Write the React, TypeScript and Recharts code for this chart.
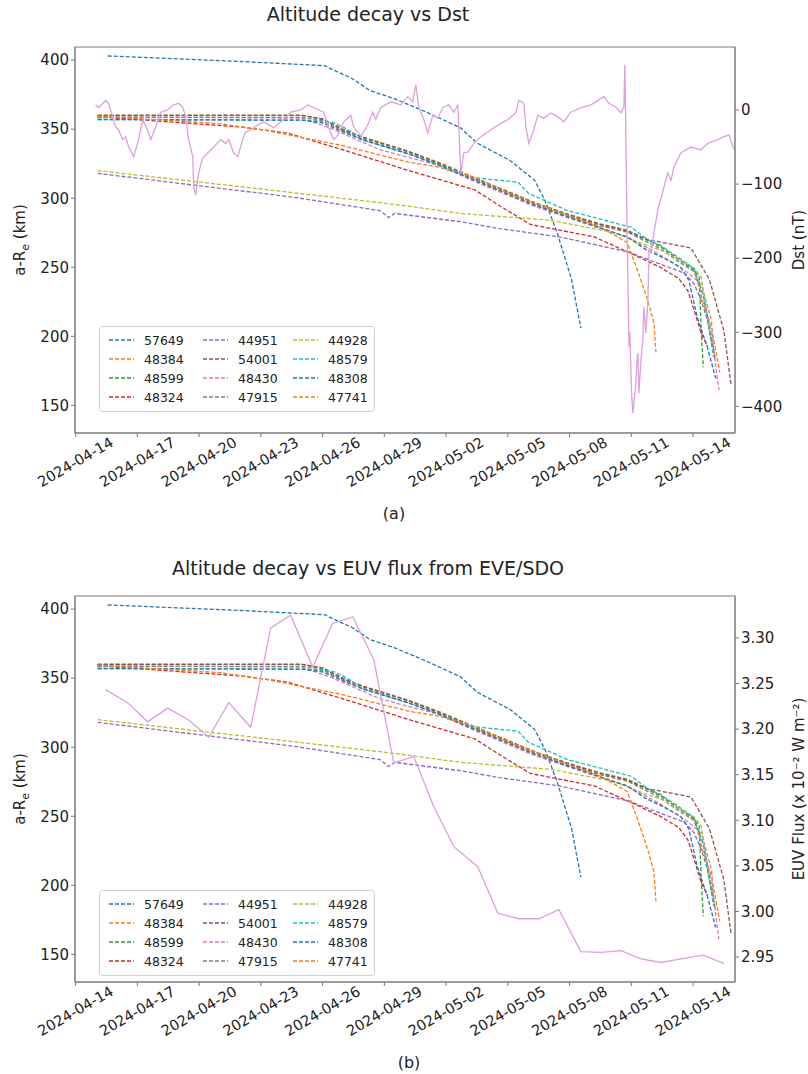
import React from 'react'
import {Line, LineChart, XAxis, YAxis} from 'recharts'

// x values are days since 2024-04-14 00:00
const DATE_TICKS = [0, 3, 6, 9, 12, 15, 18, 21, 24, 27, 30]
const DATE_LABELS = [
    '2024-04-14', '2024-04-17', '2024-04-20', '2024-04-23', '2024-04-26', '2024-04-29',
    '2024-05-02', '2024-05-05', '2024-05-08', '2024-05-11', '2024-05-14'
]
const ALT_TICKS = [150, 200, 250, 300, 350, 400]
const DST_TICKS = [-400, -300, -200, -100, 0]
const EUV_TICKS = [2.95, 3.0, 3.05, 3.1, 3.15, 3.2, 3.25, 3.3]

const SAT_IDS = ['57649', '48384', '48599', '48324', '44951', '54001', '48430', '47915', '44928', '48579', '48308', '47741']
const SAT_COLORS = ['#1f77b4', '#ff7f0e', '#2ca02c', '#d62728', '#9467bd', '#8c564b', '#e377c2', '#7f7f7f', '#bcbd22', '#17becf', '#1f77b4', '#ff7f0e']

// [day, a-Re (km)]
const alt57649 = [[1.56, 403], [4, 401.5], [8, 399], [12.1, 396], [12.5, 393], [13.4, 387], [14.3, 378], [15.5, 372], [17.1, 362], [18.7, 351], [19.5, 340], [20.0, 336], [21.1, 327.5], [22.3, 313], [22.8, 298.6], [23.4, 275], [24.1, 241], [24.55, 206]]
const alt48384 = [[1.07, 360], [11, 360], [12, 357.5], [13, 350], [14, 344], [16.2, 334], [17.8, 325], [19.3, 315.5], [22.3, 297], [24, 288], [25.5, 281.5], [26.8, 277], [28.4, 265.5], [29.3, 256], [30.05, 249], [30.5, 224], [30.9, 206.5], [31.3, 174]]
const alt48599 = [[1.07, 360], [11, 360], [12, 357], [13, 349.5], [14, 343.5], [16.2, 333.5], [17.8, 324.5], [19.3, 315], [22.3, 296.5], [24, 287.5], [25.5, 281], [26.8, 276.5], [28.4, 265], [29.3, 255.5], [30.05, 248], [30.3, 243], [30.4, 204], [30.5, 177.6]]
const alt48324 = [[1.07, 359], [8.1, 351.5], [10.35, 347], [13, 335], [16.2, 320], [19.4, 306], [20.66, 294], [22.1, 281], [25.2, 272], [27.5, 256.5], [28.4, 250], [29.3, 242], [29.75, 233], [30.05, 219], [30.4, 202], [30.7, 193]]
const alt44951 = [[1.07, 318], [10.6, 300.7], [14.8, 291], [15.2, 286], [15.5, 289], [18.7, 283], [20.6, 278], [23.5, 272], [26.9, 261], [28.1, 254], [29.6, 245.7], [30.05, 238], [30.4, 226], [30.7, 211.6], [31.0, 190]]
const alt54001 = [[1.07, 360], [11, 360], [12, 357.5], [13, 349.5], [14, 344], [16.2, 333.5], [17.8, 324.5], [19.3, 315], [22.3, 296.5], [24, 288], [25.5, 281], [26.8, 276], [27.8, 270], [29.9, 264], [30.8, 241], [31.5, 204], [31.85, 164.5]]
const alt48430 = [[1.07, 359], [11, 358], [12.5, 350], [14.8, 335], [17.6, 324], [19.4, 312], [22.3, 294], [24, 285.5], [25.5, 278], [26.8, 272], [28.4, 259], [29.75, 246], [30.4, 238], [30.9, 211.6], [31.0, 190], [31.26, 161]]
const alt47915 = [[1.07, 358.5], [11, 358.5], [12, 356], [13, 348.5], [14, 342.5], [16.2, 332], [17.8, 323.5], [19.3, 314], [22.3, 295.5], [24, 286.5], [25.5, 280], [26.8, 275.5], [28.4, 263.5], [29.3, 254], [30.05, 247], [30.5, 230], [30.9, 200], [31.1, 182]]
const alt44928 = [[1.07, 320], [10.6, 304], [15.8, 295], [18.7, 289], [23.1, 284], [26.2, 275], [27, 270], [28.5, 262], [30, 250], [30.4, 243], [30.9, 195]]
const alt48579 = [[1.07, 357], [11, 356.5], [12.5, 355], [13.2, 350], [14, 342], [16.2, 332], [17.8, 323.5], [19.3, 315], [21.5, 311.6], [22, 303.6], [23.9, 291], [27, 279], [27.8, 270], [28.4, 266], [29.3, 257], [30.05, 249], [30.5, 230], [31.0, 185]]
const alt48308 = [[1.07, 357], [11, 356.5], [12, 354.5], [13, 348], [14, 342], [16.2, 332], [17.8, 323], [19.3, 313.5], [22.3, 295], [24, 286], [25.5, 278.5], [26.8, 272], [27.7, 263], [28.8, 255], [29.4, 250], [29.8, 240.6], [30.2, 214], [30.7, 192], [31.1, 169.6]]
const alt47741 = [[1.07, 359.5], [7, 354], [9.3, 349], [13, 338], [16.2, 326], [17.5, 323], [19.4, 315], [21, 304], [23.5, 290], [25.5, 279], [26.8, 268], [27, 260], [27.3, 248], [27.8, 226], [28.1, 209.6], [28.2, 188.4]]

const SAT_ALTS = [alt57649, alt48384, alt48599, alt48324, alt44951, alt54001, alt48430, alt47915, alt44928, alt48579, alt48308, alt47741]

// Dst index (nT)
const dstDays = [0.97, 1.12, 1.46, 1.6, 1.8, 1.94, 2.09, 2.28, 2.43, 2.58, 2.82, 3.06, 3.26, 3.5, 3.65, 3.89, 4.13, 4.47, 4.76, 5.01, 5.2, 5.35, 5.49, 5.69, 5.74, 5.83, 5.98, 6.17, 6.42, 6.71, 7.05, 7.29, 7.44, 7.68, 7.88, 8.12, 8.26, 8.51, 8.85, 9.14, 9.63, 9.97, 10.45, 10.94, 11.28, 11.57, 12.06, 12.3, 12.54, 12.74, 13.03, 13.37, 13.51, 13.86, 14.2, 14.44, 14.58, 14.83, 15.31, 15.8, 16.14, 16.38, 16.53, 16.67, 16.92, 17.11, 17.36, 17.6, 17.84, 18.13, 18.38, 18.57, 18.62, 18.72, 18.86, 19.06, 19.35, 19.69, 20.17, 20.66, 21.0, 21.39, 21.54, 21.78, 21.88, 22.02, 22.22, 22.46, 22.75, 23.09, 23.43, 23.72, 24.06, 24.55, 25.04, 25.38, 25.67, 25.91, 26.25, 26.5, 26.64, 26.69, 26.79, 26.89, 26.93, 26.98, 27.03, 27.08, 27.13, 27.22, 27.27, 27.32, 27.37, 27.47, 27.56, 27.61, 27.71, 27.81, 27.86, 27.95, 28.1, 28.29, 28.59, 28.78, 28.93, 29.07, 29.41, 29.9, 30.38, 30.72, 31.21, 31.5, 31.75, 31.94, 32.04]
const dstValues = [7, 3, 13, 9, -9, -23, -27, -40, -36, -50, -63, -40, -13, -27, -40, -23, -3, 0, 7, 9, 4, -9, -40, -63, -104, -115, -85, -65, -58, -50, -40, -45, -40, -58, -63, -40, -30, -27, -20, -16, -24, -16, -3, 0, 7, 3, -3, -24, -40, -34, -16, -7, -23, -36, -20, -3, -13, 3, 11, 7, 18, 11, 34, 4, -13, -31, -7, -11, 3, 7, -3, 7, -23, -85, -58, -57, -45, -36, -27, -18, -13, -4, 13, 9, -23, -45, -31, -7, -11, -4, -9, -16, -3, 3, 7, 13, 18, 9, 4, -4, 4, 61, -150, -320, -300, -350, -390, -409, -395, -369, -340, -328, -382, -338, -311, -266, -301, -257, -189, -193, -166, -135, -104, -85, -95, -77, -58, -50, -54, -45, -40, -36, -34, -50, -54]

// EUV flux from EVE/SDO (x 10^-2 W m^-2)
const euvDays = [1.46, 2.53, 3.5, 4.47, 5.49, 6.47, 7.44, 8.51, 9.48, 10.45, 11.52, 12.49, 13.47, 14.49, 15.46, 16.43, 17.4, 18.38, 19.54, 20.52, 21.54, 22.51, 23.48, 24.55, 25.52, 26.5, 27.47, 28.44, 29.41, 30.48, 31.5]
const euvValues = [3.243, 3.229, 3.208, 3.223, 3.21, 3.191, 3.229, 3.202, 3.311, 3.325, 3.268, 3.316, 3.323, 3.276, 3.163, 3.17, 3.115, 3.071, 3.049, 2.998, 2.992, 2.992, 3.002, 2.956, 2.955, 2.957, 2.948, 2.944, 2.948, 2.952, 2.943]

const AXIS = '#7a7a7a'
const TEXT = '#222'
const PLUM = '#dda0dd'
const X_DOMAIN = [-0.03, 32.04]

const dstData = dstDays.map((t, i) => ({t, v: dstValues[i]}))
const euvData = euvDays.map((t, i) => ({t, v: euvValues[i]}))
const satData = SAT_ALTS.map(pts => pts.map(([t, alt]) => ({t, alt})))

const minus = (v: number) => (v < 0 ? `\u2212${-v}` : `${v}`)

const DateTick = ({x, y, payload}: any) => {
    const label = DATE_LABELS[DATE_TICKS.indexOf(payload.value)]
    const cy = y + 23
    return (
        <text x={x} y={cy} transform={`rotate(-30, ${x}, ${cy})`} textAnchor="middle"
              dominantBaseline="central" fontSize={14.5} fill={TEXT}>
            {label}
        </text>
    )
}

function Panel({title, titleY, rightData, rightDomain, rightTicks, rightFormat, rightLabel, legendTop, caption, captionX}: any) {
    const col = [0, 94, 184]
    return (
        <div style={{position: 'relative', width: 808, height: 525}}>
            <LineChart width={808} height={525} margin={{top: 47, right: 0, bottom: 0, left: 0}}>
                <XAxis dataKey="t" type="number" domain={X_DOMAIN} allowDataOverflow ticks={DATE_TICKS}
                       interval={0} height={92} tickSize={4} stroke={AXIS} tick={<DateTick/>}/>
                <YAxis yAxisId="left" type="number" domain={[130, 409.5]} allowDataOverflow ticks={ALT_TICKS}
                       width={75} tickSize={4} stroke={AXIS} tick={{fontSize: 15, fill: TEXT}} interval={0}/>
                <YAxis yAxisId="right" orientation="right" type="number" domain={rightDomain} allowDataOverflow
                       ticks={rightTicks} tickFormatter={rightFormat} width={73} tickSize={4} stroke={AXIS}
                       tick={{fontSize: 15, fill: TEXT}} interval={0}/>
                {satData.map((d, i) => (
                    <Line key={SAT_IDS[i]} yAxisId="left" data={d} dataKey="alt" stroke={SAT_COLORS[i]}
                          strokeWidth={1.3} strokeDasharray="4 2" dot={false} activeDot={false}
                          isAnimationActive={false}/>
                ))}
                <Line yAxisId="right" data={rightData} dataKey="v" stroke={PLUM} strokeWidth={1.3}
                      dot={false} activeDot={false} isAnimationActive={false}/>
            </LineChart>
            <svg width={808} height={525} style={{position: 'absolute', left: 0, top: 0, pointerEvents: 'none'}}>
                {/* plot frame */}
                <rect x={75} y={47} width={660} height={386} fill="none" stroke={AXIS}/>
                <text x={368} y={titleY} textAnchor="middle" fontSize={19} fill={TEXT}>{title}</text>
                <text transform="translate(25, 240) rotate(-90)" textAnchor="middle" fontSize={15} fill={TEXT}>
                    a-R<tspan fontSize={11} dy={4}>e</tspan><tspan dy={-4}> (km)</tspan>
                </text>
                <text transform="translate(804, 240) rotate(-90)" textAnchor="middle" fontSize={15} fill={TEXT}>
                    {rightLabel}
                </text>
                <text x={captionX} y={519} textAnchor="middle" fontSize={16} fill={TEXT}>{caption}</text>
                {/* legend */}
                <rect x={99.5} y={legendTop + 0.5} width={275} height={85} rx={3}
                      fill="#fff" fillOpacity={0.8} stroke="#cfcfcf"/>
                {SAT_IDS.map((id, i) => {
                    const c = Math.floor(i / 4)
                    const r = i % 4
                    const x = 109 + col[c]
                    const y = legendTop + 14 + r * 19
                    return (
                        <g key={id}>
                            <line x1={x} x2={x + 25} y1={y} y2={y} stroke={SAT_COLORS[i]} strokeWidth={1.3}
                                  strokeDasharray="4 2"/>
                            <text x={x + 35} y={y} dominantBaseline="central" fontSize={12.5} fill={TEXT}>{id}</text>
                        </g>
                    )
                })}
            </svg>
        </div>
    )
}

export default function App() {
    return (
        <div style={{position: 'absolute', left: 0, top: 0, width: 808, height: 1074, background: '#fff',
            fontFamily: '"DejaVu Sans", sans-serif'}}>
            <Panel title="Altitude decay vs Dst" titleY={21} rightData={dstData} rightDomain={[-436, 85]}
                   rightTicks={DST_TICKS} rightFormat={minus} rightLabel="Dst (nT)" legendTop={326}
                   caption="(a)" captionX={394}/>
            <div style={{position: 'absolute', left: 0, top: 549}}>
                <Panel title="Altitude decay vs EUV flux from EVE/SDO" titleY={26} rightData={euvData}
                       rightDomain={[2.9226, 3.346]} rightTicks={EUV_TICKS} rightFormat={(v: number) => v.toFixed(2)}
                       rightLabel="EUV Flux (x 10⁻² W m⁻²)" legendTop={341} caption="(b)" captionX={409}/>
            </div>
        </div>
    )
}
